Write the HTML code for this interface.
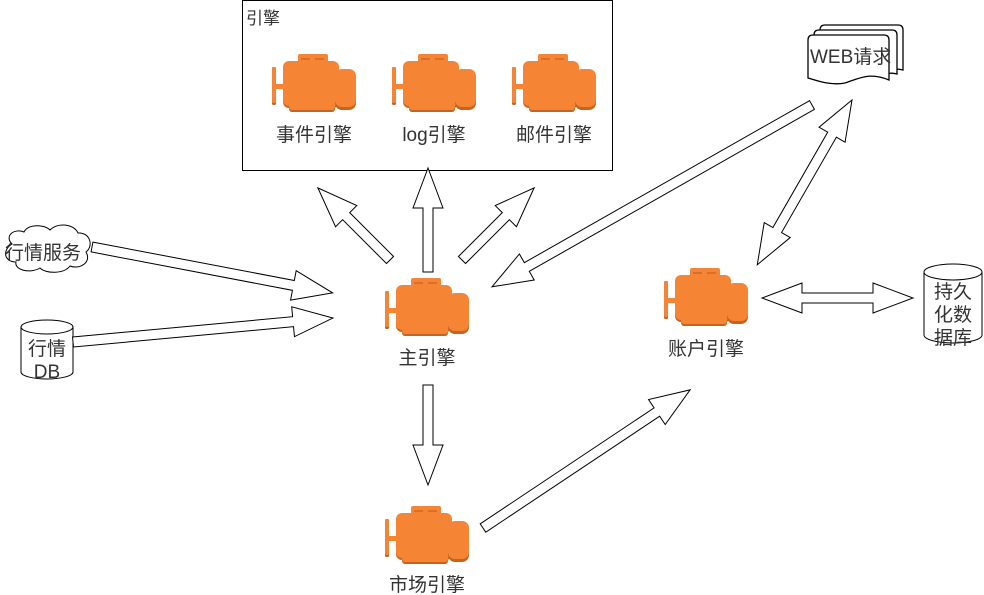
<!DOCTYPE html>
<html><head><meta charset="utf-8">
<style>
html,body{margin:0;padding:0;background:#fff;}
svg{display:block;}
text{font-family:"Liberation Sans","Noto Sans CJK SC",sans-serif;fill:#333;}
</style></head>
<body>
<svg width="984" height="595" viewBox="0 0 984 595" xmlns="http://www.w3.org/2000/svg">
<defs>
<g id="eng">
  <rect x="0" y="13" width="4" height="38" rx="1.5" fill="#c8631f"/>
  <rect x="0" y="13" width="4" height="36" rx="1.5" fill="#f58535"/>
  <rect x="4" y="30" width="9" height="5" fill="#f58535"/>
  <rect x="11" y="9" width="56" height="45" rx="6" fill="#c8631f"/>
  <rect x="17" y="40" width="46" height="18" rx="3" fill="#c8631f"/>
  <rect x="11" y="7" width="56" height="45" rx="6" fill="#f58535"/>
  <rect x="17" y="38" width="46" height="18" rx="3" fill="#f58535"/>
  <rect x="26" y="0" width="30" height="9" rx="2" fill="#f58535"/>
  <line x1="29" y1="5" x2="38" y2="5" stroke="#c8631f" stroke-width="1.2"/>
  <line x1="43" y1="5" x2="52" y2="5" stroke="#c8631f" stroke-width="1.2"/>
  <rect x="63" y="17" width="21" height="39" rx="7" fill="#c8631f"/>
  <rect x="63" y="15" width="21" height="38" rx="7" fill="#f58535"/>
</g>
</defs>

<rect x="242.5" y="0.5" width="370" height="170" fill="#fff" stroke="#000"/>
<text x="246" y="24" font-size="17">引擎</text>

<use href="#eng" x="272" y="54"/>
<use href="#eng" x="392" y="54"/>
<use href="#eng" x="512" y="54"/>
<text x="314" y="141" font-size="19" text-anchor="middle">事件引擎</text>
<text x="434" y="141" font-size="19" text-anchor="middle" fill="#111">log引擎</text>
<text x="554" y="141" font-size="19" text-anchor="middle">邮件引擎</text>

<use href="#eng" x="385" y="278"/>
<text x="427" y="364" font-size="19" text-anchor="middle">主引擎</text>
<use href="#eng" x="664" y="268"/>
<text x="706" y="355" font-size="19" text-anchor="middle">账户引擎</text>
<use href="#eng" x="385" y="506"/>
<text x="427" y="591" font-size="19" text-anchor="middle">市场引擎</text>

<path d="M12,244 C4,236 14,228 24,232 C28,224 44,224 50,230 C58,222 74,224 78,233 C90,232 94,246 86,252 C92,262 80,270 70,266 C64,274 46,274 40,268 C30,274 14,270 16,262 C4,262 2,250 12,244 Z" fill="#fff" stroke="#000"/>
<text x="5" y="259" font-size="19">行情服务</text>

<path d="M21,327 L21,372 A26,7 0 0 0 73,372 L73,327 A26,7 0 0 0 21,327 A26,7 0 0 0 73,327" fill="#fff" stroke="#000"/>
<text x="47" y="355" font-size="19" text-anchor="middle">行情</text>
<text x="47" y="378" font-size="19" text-anchor="middle" fill="#111">DB</text>

<path d="M924,272 L924,335 A29,8 0 0 0 982,335 L982,272 A29,8 0 0 0 924,272 A29,8 0 0 0 982,272" fill="#fff" stroke="#000"/>
<text x="953" y="298" font-size="19" text-anchor="middle">持久</text>
<text x="953" y="321" font-size="19" text-anchor="middle">化数</text>
<text x="953" y="344" font-size="19" text-anchor="middle">据库</text>

<path d="M820,30 Q820,25 825,25 L898,25 Q903,25 903,30 L903,70 Q895,68 890,70 Z" fill="#fff" stroke="#000" stroke-width="1.3"/>
<path d="M814,35 Q814,30 819,30 L892,30 Q897,30 897,35 L897,74 Q890,72 884,75 Z" fill="#fff" stroke="#000" stroke-width="1.3"/>
<path d="M808,40 Q808,35 813,35 L884,35 Q889,35 889,40 L889,80 C870,72 860,78 845,83 C830,86 815,80 808,78 Z" fill="#fff" stroke="#000" stroke-width="1.3"/>
<text x="810" y="63" font-size="19" fill="#222">WEB请求</text>

<g fill="#fff" stroke="#000" stroke-width="1">
  <g transform="translate(92,247) rotate(10.8)"><polygon points="0,-5 205,-5 205,-15 245,0 205,15 205,5 0,5"/></g>
  <g transform="translate(73,342) rotate(-5.27)"><polygon points="0,-5 221,-5 221,-15 261,0 221,15 221,5 0,5"/></g>
  <g transform="translate(390,260) rotate(-135)"><polygon points="0,-5 62,-5 62,-15 102,0 62,15 62,5 0,5"/></g>
  <g transform="translate(428,272) rotate(-90)"><polygon points="0,-5 64,-5 64,-15 104,0 64,15 64,5 0,5"/></g>
  <g transform="translate(462,260) rotate(-45)"><polygon points="0,-5 62,-5 62,-15 102,0 62,15 62,5 0,5"/></g>
  <g transform="translate(812,105) rotate(150.4)"><polygon points="0,-5 328,-5 328,-15 368,0 328,15 328,5 0,5"/></g>
  <g transform="translate(852,100) rotate(119.9)"><polygon points="0,0 40,-15 40,-5 150,-5 150,-15 190,0 150,15 150,5 40,5 40,15"/></g>
  <g transform="translate(762,298)"><polygon points="0,0 40,-15 40,-5 111,-5 111,-15 151,0 111,15 111,5 40,5 40,15"/></g>
  <g transform="translate(428,385) rotate(90)"><polygon points="0,-5 60,-5 60,-15 100,0 60,15 60,5 0,5"/></g>
  <g transform="translate(483,528) rotate(-33.7)"><polygon points="0,-5 209,-5 209,-15 249,0 209,15 209,5 0,5"/></g>
</g>
</svg>
</body></html>
